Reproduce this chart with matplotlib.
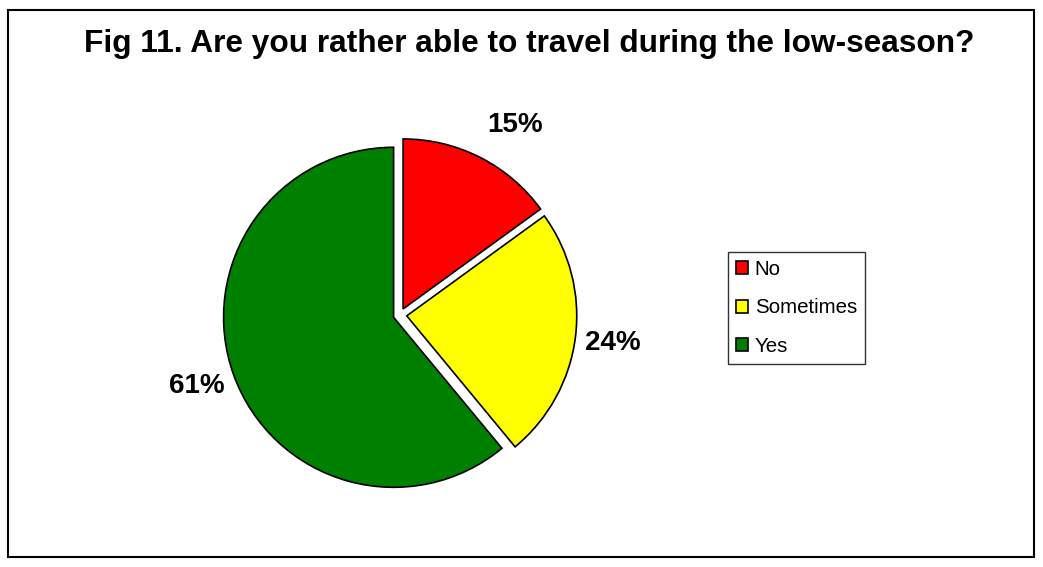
import matplotlib

matplotlib.use("Agg")
import matplotlib.pyplot as plt
from matplotlib.patches import Rectangle

plt.rcParams["font.family"] = ["Liberation Sans", "DejaVu Sans"]

labels = ["No", "Sometimes", "Yes"]
shares = [15, 24, 61]
colors = ["#ff0000", "#ffff00", "#008000"]

W, H = 1043, 567
fig = plt.figure(figsize=(W / 100, H / 100), dpi=100)

# outer frame of the chart area
fig.patches.append(Rectangle((8 / W, 10 / H), 1026 / W, 547 / H, transform=fig.transFigure,
                             fill=False, edgecolor="black", lw=1.5))

fig.text(529 / W, 1 - 44 / H, "Fig 11. Are you rather able to travel during the low-season?",
         ha="center", va="center", fontsize=22.8, fontweight="bold")

# pie: centre at (400, 315) px, radius ~170 px
R = 170
side = 2 * R * 1.3
cx, cy = 400, H - 315
ax = fig.add_axes([(cx - side / 2) / W, (cy - side / 2) / H, side / W, side / H])
wedges, _, autotexts = ax.pie(
    shares, colors=colors, startangle=90, counterclock=False,
    explode=[0.04, 0.04, 0.04], autopct="%d%%", pctdistance=1.28,
    wedgeprops=dict(edgecolor="black", linewidth=1.2),
    textprops=dict(fontsize=20, fontweight="bold"),
)
ax.set_xlim(-1.3, 1.3)
ax.set_ylim(-1.3, 1.3)
ax.set_aspect("equal")

# best-fit style label placement (radius units)
label_pos = [(0.676, 1.118), (1.253, -0.165), (-1.194, -0.418)]
for t, p in zip(autotexts, label_pos):
    t.set_position(p)

leg = fig.legend(wedges, labels, loc="center", bbox_to_anchor=(796.5 / W, 1 - 308 / H),
                 frameon=True, fancybox=False, fontsize=14.8, handlelength=0.6,
                 handleheight=0.6, handletextpad=0.3, labelspacing=0.95,
                 borderpad=0.4, borderaxespad=0)
leg.get_frame().set_edgecolor("black")
leg.get_frame().set_linewidth(1.0)

fig.savefig("out.png", dpi=100)
